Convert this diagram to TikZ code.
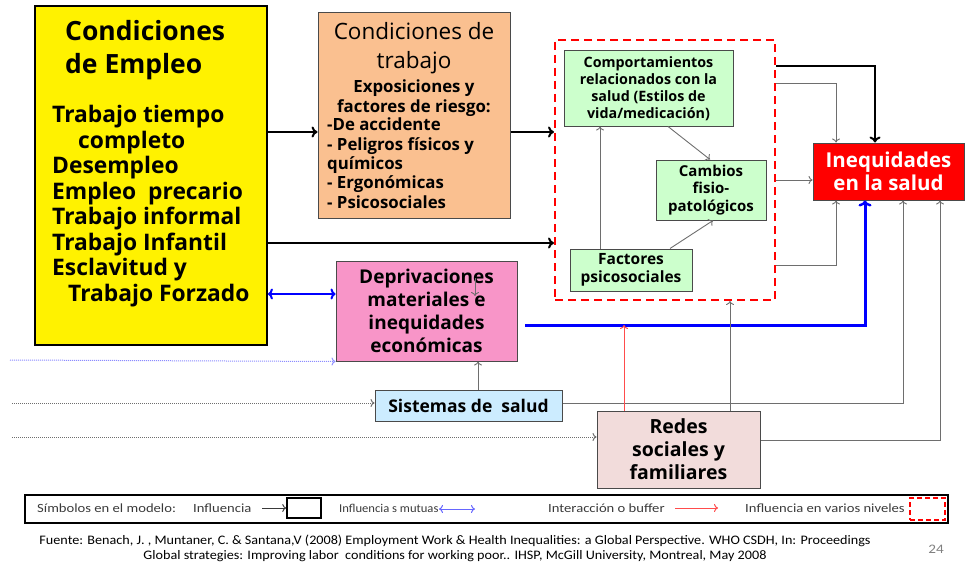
\documentclass[tikz,border=0pt]{standalone}
\usepackage{fontspec}
\setmainfont{Open Sans}
\newfontfamily\legfont{Carlito}[FakeStretch=1.17]
\newfontfamily\legnarrow{Carlito}[FakeStretch=1.05]
\newfontfamily\srcfont{Carlito}[FakeStretch=1.09]
\usetikzlibrary{arrows.meta}
\definecolor{boxgray}{HTML}{4A4A4A}
\definecolor{peach}{HTML}{FAC090}
\definecolor{mint}{HTML}{CCFFCC}
\definecolor{pinkbox}{HTML}{F895C8}
\definecolor{skyb}{HTML}{CCECFF}
\definecolor{rosebox}{HTML}{F2DCDB}
\definecolor{lgray}{HTML}{6E6E6E}
\definecolor{legtext}{HTML}{3A3A3A}
\tikzset{
  box/.style={draw=boxgray, line width=1pt, inner sep=0pt, align=center, font=\bfseries},
  bigarr/.style={line width=2.4pt, -{To[length=6pt,width=11pt,line width=2pt]}},
  thinarr/.style={draw=lgray, line width=0.9pt, -{To[length=4pt,width=8pt]}},
  bluethick/.style={draw=blue, line width=3pt, -{To[length=6pt,width=13pt,line width=2.4pt]}},
  bluedbl/.style={draw=blue, line width=2.4pt, {To[length=5pt,width=11pt,line width=2pt]}-{To[length=5pt,width=11pt,line width=2pt]}},
  redthin/.style={draw=red!70, line width=1pt, -{To[length=4pt,width=8pt]}},
  dotin/.style={densely dotted, line width=1pt, -{To[length=4pt,width=8pt]}},
  legtxt/.style={anchor=west, inner sep=0pt, font=\legfont\fontsize{12.5}{14}\selectfont, text=legtext},
}
\begin{document}
\begin{tikzpicture}[x=1pt,y=-1pt]
\useasboundingbox (0,0) rectangle (965,567);

% main boxes
\node[box, draw=black, line width=1.8pt, fill=yellow, minimum width=232pt, minimum height=339pt] (emp) at (151,175.5) {};
\node[anchor=north west, inner sep=0pt, align=left, font=\bfseries\fontsize{26.5}{33}\selectfont] (emph) at (65,20.5) {Condiciones\\de Empleo};
\node[anchor=north west, inner sep=0pt, align=left, font=\bfseries\fontsize{22.8}{25.5}\selectfont] (empl) at (52,105)
 {Trabajo tiempo\\\hspace*{26pt}completo\\Desempleo\\Empleo\ \ precario\\Trabajo informal\\Trabajo Infantil\\Esclavitud y\\\hspace*{16pt}Trabajo Forzado};

\node[box, fill=peach, minimum width=192pt, minimum height=205pt] (ct) at (414,115.5) {};
\node[anchor=north, inner sep=0pt, align=center, font=\fontsize{22.5}{29}\selectfont] (cth) at (414,22) {Condiciones de\\trabajo};
\node[anchor=north, inner sep=0pt, align=center, font=\bfseries\fontsize{16.8}{19.3}\selectfont] (ctx) at (414,80) {Exposiciones y\\factores de riesgo:};
\node[anchor=north west, inner sep=0pt, align=left, font=\bfseries\fontsize{16.8}{19.3}\selectfont] (ctl) at (327,118)
 {-De accidente\\- Peligros físicos y\\químicos\\- Ergonómicas\\- Psicosociales};

\node[draw=red, line width=2pt, dash pattern=on 8pt off 5pt, minimum width=220pt, minimum height=260pt, inner sep=0pt] (dash) at (665,170) {};

\node[box, fill=mint, minimum width=169pt, minimum height=75pt, font=\bfseries\fontsize{14.3}{17}\selectfont] (comp) at (648.5,88.5)
 {Comportamientos\\relacionados con la\\salud (Estilos de\\vida/medicación)};
\node[box, fill=mint, minimum width=110pt, minimum height=60pt, font=\bfseries\fontsize{15}{17.5}\selectfont] (cam) at (711,190)
 {Cambios\\fisio-\\patológicos};
\node[box, fill=mint, minimum width=122pt, minimum height=42pt, font=\bfseries\fontsize{15.5}{18}\selectfont] (fac) at (631,270)
 {Factores\\psicosociales};

\node[box, fill=red, text=white, minimum width=151pt, minimum height=57pt, font=\bfseries\fontsize{20.5}{23.5}\selectfont] (ineq) at (888.5,171.5)
 {Inequidades\\en la salud};

\node[box, fill=pinkbox, minimum width=181pt, minimum height=100pt, font=\bfseries\fontsize{19}{23}\selectfont] (dep) at (426.5,311)
 {Deprivaciones\\materiales e\\inequidades\\económicas};
\node[box, fill=skyb, minimum width=187pt, minimum height=31pt, font=\bfseries\fontsize{17.5}{21}\selectfont] (sis) at (468.5,405.5)
 {Sistemas de\ \ salud};
\node[box, fill=rosebox, minimum width=163pt, minimum height=77pt, font=\bfseries\fontsize{19.5}{23}\selectfont] (red) at (678.5,449.5)
 {Redes\\sociales y\\familiares};

% connectors
\draw[bigarr] (emp.east |- 0,132) -- (ct.west |- 0,132);
\draw[bigarr] (ct.east |- 0,132) -- (dash.west |- 0,132);
\draw[bigarr] (emp.east |- 0,243) -- (dash.west |- 0,243);
\draw[bluedbl] (emp.east |- 0,294) -- (dep.west |- 0,294);
\draw[bigarr, line join=miter] (dash.east |- 0,66) -| (ineq.north -| 875,0);
\draw[thinarr] (dash.east |- 0,83) -| (ineq.north -| 836,0);
\draw[thinarr] (dash.east |- 0,180) -- (ineq.west |- 0,180);
\draw[thinarr] (dash.east |- 0,265) -| (ineq.south -| 836,0);
\coordinate (bstart) at (525,325);
\draw[bluethick] (bstart) -| (ineq.south -| 865,0);
\draw[thinarr] (sis.east |- 0,403) -| (ineq.south -| 903,0);
\draw[thinarr] (red.east |- 0,440) -| (ineq.south -| 940,0);
\coordinate (buf) at (624,325);
\draw[redthin] (red.north -| buf) -- (buf);
\draw[thinarr] (red.north -| 730,0) -- (dash.south -| 730,0);
\draw[thinarr] (sis.north -| 478,0) -- (dep.south -| 478,0);
\draw[thinarr] (fac.north -| 600,0) -- (comp.south -| 600,0);
\draw[thinarr] (comp.south -| 668,0) -- (cam.north -| 710,0);
\draw[thinarr] (fac.north -| 670,0) -- (cam.south -| 713,0);
\coordinate (pa) at (475,278);
\coordinate (pb) at (475,296);
\draw[thinarr] (pa) -- (pb);
\coordinate (in1) at (10,360);
\coordinate (in2) at (12,403);
\coordinate (in3) at (12,437);
\draw[dotin, draw=blue!45] (in1) -- (dep.south west);
\draw[dotin, draw=lgray] (in2) -- (sis.west |- in2);
\draw[dotin, draw=lgray] (in3) -- (red.west |- in3);

% legend
\node[draw=black, line width=2.2pt, minimum width=923pt, minimum height=28pt, inner sep=0pt] (leg) at (486.5,509) {};
\node[legtxt] (l1) at (37,508) {Símbolos en el modelo:};
\node[legtxt] (l2) at (193,508) {Influencia};
\node[draw=black, line width=1.5pt, minimum width=34pt, minimum height=20pt, inner sep=0pt] (lbox) at (304,508) {};
\coordinate (la) at (262,508);
\draw[draw=legtext, line width=0.9pt, -{To[length=4pt,width=8pt]}] (la) -- (lbox.west);
\node[legtxt, font=\legnarrow\fontsize{12}{14}\selectfont] (l3) at (339,508) {Influencia s mutuas};
\coordinate (lb1) at (439,509);
\coordinate (lb2) at (475,509);
\draw[draw=blue!60, line width=1pt, {To[length=4pt,width=8pt]}-{To[length=4pt,width=8pt]}] (lb1) -- (lb2);
\node[legtxt] (l4) at (548,508) {Interacción o buffer};
\coordinate (lr1) at (675,508);
\coordinate (lr2) at (718,508);
\draw[redthin] (lr1) -- (lr2);
\node[legtxt] (l5) at (745,508) {Influencia en varios niveles};
\node[draw=red, line width=1.5pt, dash pattern=on 5pt off 3pt, minimum width=35pt, minimum height=22pt, inner sep=0pt] (ldash) at (927.5,509) {};

% footer
\node[inner sep=0pt, align=center, font=\srcfont\fontsize{13}{15}\selectfont] (src) at (455,548)
 {Fuente: Benach, J. , Muntaner, C. \& Santana,V (2008) Employment Work \& Health Inequalities: a Global Perspective. WHO CSDH, In: Proceedings\\Global strategies: Improving labor\ \ conditions for working poor.. IHSP, McGill University, Montreal, May 2008};
\node[inner sep=0pt, font=\legfont\fontsize{13}{15}\selectfont, text=gray] (pg) at (936,549) {24};
\end{tikzpicture}
\end{document}
